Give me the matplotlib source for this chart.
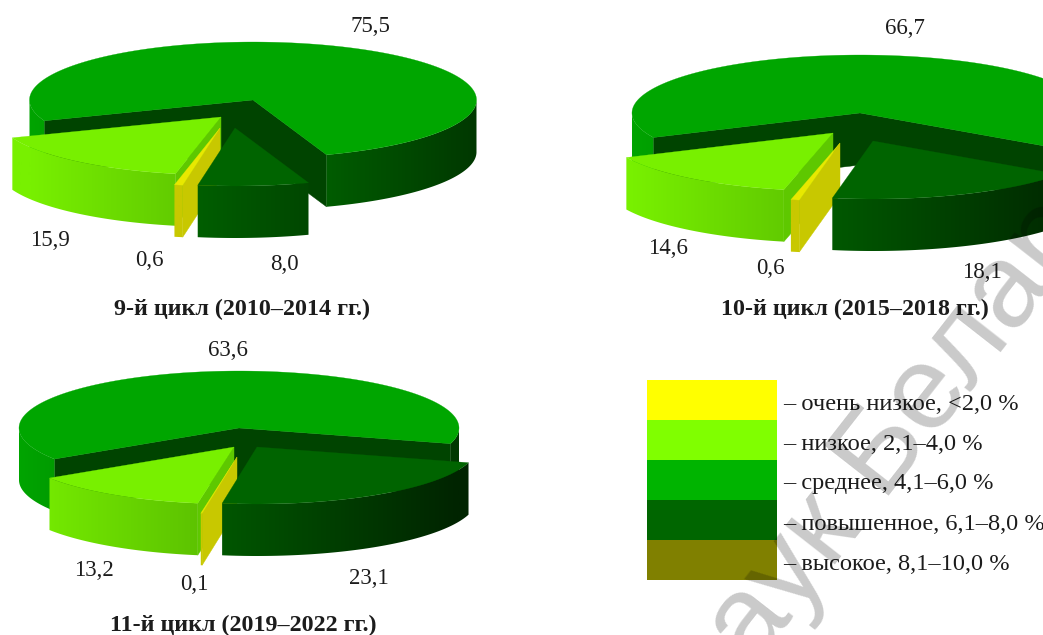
import numpy as np
import matplotlib.pyplot as plt
from matplotlib.colors import LinearSegmentedColormap
from matplotlib.patches import Polygon, Rectangle

plt.rcParams["font.family"] = ["Liberation Serif", "DejaVu Serif"]

# shares by level, order: medium, raised, very low, low
cycle_9 = [75.5, 8.0, 0.6, 15.9]
cycle_10 = [66.7, 18.1, 0.6, 14.6]
cycle_11 = [63.6, 23.1, 0.1, 13.2]
cycle_titles = ["9-й цикл (2010–2014 гг.)", "10-й цикл (2015–2018 гг.)", "11-й цикл (2019–2022 гг.)"]

legend_labels = [
    "– очень низкое, <2,0 %",
    "– низкое, 2,1–4,0 %",
    "– среднее, 4,1–6,0 %",
    "– повышенное, 6,1–8,0 %",
    "– высокое, 8,1–10,0 %",
]
legend_colors = ["#ffff00", "#80ff00", "#00b400", "#006600", "#808000"]

# top colour, wall colour at left / right of the pie, cut face colour
STYLES = [
    ("#00a600", "#00a400", "#003800", "#004400"),
    ("#006400", "#008100", "#002400", "#004400"),
    ("#e8e800", "#c8c800", "#c8c800", "#c8c800"),
    ("#78f000", "#78f000", "#358100", "#5ec800"),
]
# slices are painted back to front
DRAW_ORDER = [0, 3, 2, 1]

W, H = 1043, 635
z_now = 2.0


def next_z():
    global z_now
    z_now += 0.01
    return z_now


def rim_point(apex, rx, ry, t):
    return apex[0] + rx * np.sin(t), apex[1] - ry * np.cos(t)


def draw_wall(ax, xs, ys, depth, cx, rx, cmap):
    # gradient runs across the whole pie, the wall polygon cuts it out
    pts = np.r_[np.c_[xs, ys], np.c_[xs, ys + depth][::-1]]
    pad = 60
    grid = np.linspace(cx - rx - pad, cx + rx + pad, 512)
    shade = np.clip((grid - (cx - rx)) / (2 * rx), 0, 1)
    im = ax.imshow(shade[None, :], cmap=cmap, vmin=0, vmax=1,
                   extent=[grid[0], grid[-1], H, 0], aspect="auto", zorder=next_z())
    im.set_clip_path(Polygon(pts, transform=ax.transData))


def draw_slice(ax, apex, t0, t1, cx, rx, ry, depth, style):
    top, left_col, right_col, cut = style
    cmap = LinearSegmentedColormap.from_list("wall", [left_col, right_col])
    ts = np.linspace(t0, t1, max(int(np.degrees(t1 - t0)) * 2, 3))
    xs, ys = rim_point(apex, rx, ry, ts)

    # cut faces that turn towards the viewer
    for t, visible in ((t0, np.sin(t0) < 0), (t1, np.sin(t1) > 0)):
        if visible:
            x, y = rim_point(apex, rx, ry, t)
            ax.fill([apex[0], x, x, apex[0]], [apex[1], y, y + depth, apex[1] + depth],
                    color=cut, lw=0.3, zorder=next_z())

    # only the front half of the rim has a visible wall
    front = np.cos(ts) <= 0
    runs = np.split(np.arange(len(ts)), np.where(np.diff(front.astype(int)) != 0)[0] + 1)
    for run in runs:
        if front[run[0]] and len(run) > 1:
            draw_wall(ax, xs[run], ys[run], depth, cx, rx, cmap)

    ax.fill(np.r_[apex[0], xs], np.r_[apex[1], ys], color=top, lw=0.2, zorder=next_z())


def draw_pie(ax, values, start, apexes, cx, rx, ry, depth):
    angles = np.radians(start + np.cumsum([0] + list(values)) * 3.6)
    for i in DRAW_ORDER:
        draw_slice(ax, apexes[i], angles[i], angles[i + 1], cx, rx, ry, depth, STYLES[i])


fig = plt.figure(figsize=(W / 100, H / 100), dpi=100)
ax = fig.add_axes([0, 0, 1, 1])

# slice tips for each pie, same order as the values
draw_pie(ax, cycle_9, 249, [(253, 100), (235, 128), (220, 128), (221, 117)], 253.5, 223.5, 58, 52)
draw_pie(ax, cycle_10, 245, [(860, 113), (873, 141), (840, 143), (833, 133)], 860, 228, 58, 52)
draw_pie(ax, cycle_11, 237, [(239, 428), (257, 447), (237, 457), (234, 447)], 239, 220, 57, 52)

ax.set_xlim(0, W)
ax.set_ylim(H, 0)
ax.axis("off")

TEXT = "#1c1c1c"
label_xy_9 = [(370, 27), (284, 265), (149, 260), (50, 241)]
label_xy_10 = [(905, 28), (982, 272), (770, 269), (668, 248)]
label_xy_11 = [(228, 351), (369, 578), (194, 585), (94, 571)]
for values, points in ((cycle_9, label_xy_9), (cycle_10, label_xy_10), (cycle_11, label_xy_11)):
    for value, (x, y) in zip(values, points):
        ax.text(x, y, f"{value:.1f}".replace(".", ","), ha="center", va="center",
                fontsize=16.5, color=TEXT, zorder=6)

for title, (x, y) in zip(cycle_titles, [(242, 309), (855, 309), (243, 625)]):
    ax.text(x, y, title, ha="center", va="center", fontsize=17.3, fontweight="bold",
            color=TEXT, zorder=6)

for i, (label, color) in enumerate(zip(legend_labels, legend_colors)):
    ax.add_patch(Rectangle((647, 380 + i * 40), 130, 40, color=color, lw=0, zorder=5))
    ax.text(783, 404 + i * 40, label, ha="left", va="center", fontsize=17.6, color=TEXT, zorder=6)

# diagonal stamp across the page
ax.text(713, 721, "наук Беларуси", rotation=52, rotation_mode="anchor", ha="left", va="baseline",
        family=["Liberation Sans"], fontsize=86, color="black", alpha=0.21, zorder=7, clip_on=True)

fig.savefig("out.png", dpi=100)
